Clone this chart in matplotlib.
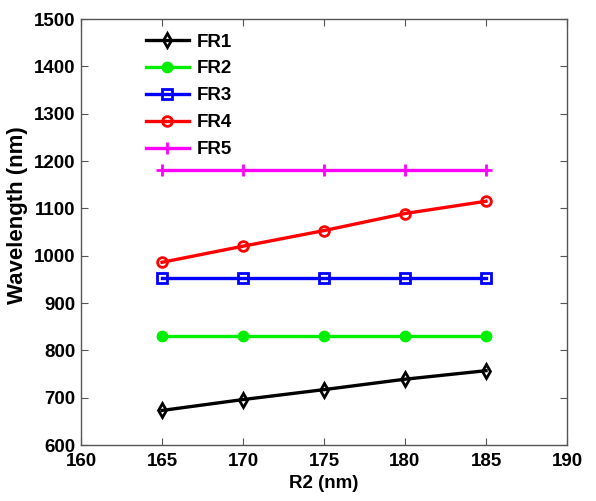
import matplotlib
import matplotlib.pyplot as plt

matplotlib.use("Agg")

plt.rcParams["font.family"] = ["Liberation Sans", "DejaVu Sans"]
plt.rcParams["font.weight"] = "bold"

r2 = [165, 170, 175, 180, 185]
fr1 = [673, 696, 717, 739, 757]
fr2 = [831, 831, 831, 831, 831]
fr3 = [952, 952, 952, 952, 952]
fr4 = [986, 1020, 1053, 1089, 1115]
fr5 = [1180, 1180, 1180, 1180, 1180]

series = [
    ("FR1", fr1, "black", "d", "none", 7),
    ("FR2", fr2, "#00ee00", "o", "#00ee00", 6.5),
    ("FR3", fr3, "blue", "s", "none", 6.5),
    ("FR4", fr4, "red", "o", "none", 7),
    ("FR5", fr5, "magenta", "+", "none", 9),
]

fig = plt.figure(figsize=(5.96, 5.01), dpi=100)
ax = fig.add_axes([81 / 596, 56 / 501, 486 / 596, 426 / 501])

for name, values, color, marker, face, size in series:
    ax.plot(r2, values, color=color, lw=2.4, marker=marker, ms=size,
            mfc=face, mec=color, mew=2, label=name)

ax.set_xlim(160, 190)
ax.set_ylim(600, 1500)
ax.set_xticks(range(160, 191, 5))
ax.set_yticks(range(600, 1501, 100))
ax.tick_params(direction="in", top=True, right=True, length=5, color="#555555",
               labelsize=13.5, pad=4)
ax.tick_params(axis="x", pad=6)
for label in ax.get_xticklabels() + ax.get_yticklabels():
    label.set_fontweight("bold")
for spine in ax.spines.values():
    spine.set_color("#555555")
    spine.set_linewidth(1)

ax.set_xlabel("R2 (nm)", fontsize=13.5, fontweight="bold", labelpad=3)
ax.set_ylabel("Wavelength (nm)", fontsize=16, fontweight="bold")
ax.yaxis.set_label_coords(-0.11, 0.54)

ax.legend(loc="upper left", bbox_to_anchor=(0.095, 1.01), frameon=False, fontsize=13.5,
          handlelength=2.3, labelspacing=0.52, handletextpad=0.4, borderpad=0.5)

fig.savefig("out.png", dpi=100)
